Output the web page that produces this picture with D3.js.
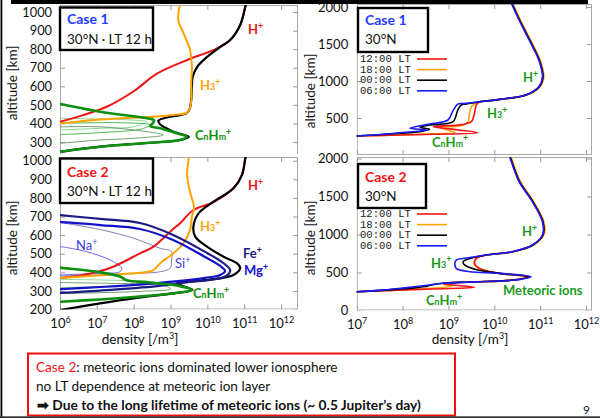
<!DOCTYPE html>
<html><head><meta charset="utf-8">
<script src="https://cdn.jsdelivr.net/npm/d3@7/dist/d3.min.js"></script>
<style>body{margin:0;background:#fff}svg{display:block}</style>
</head><body>
<svg id="c" width="600" height="418"></svg>
<script>
// ---------------- DATA: points are [log10 density (/m^3), altitude (km)] ----------------
const xTicksLeft = [6, 7, 8, 9, 10, 11, 12];
const xTicksRight = [7, 8, 9, 10, 11, 12];
const yTicksLeftTop = [300, 400, 500, 600, 700, 800, 900, 1000];
const yTicksLeftBot = [200, 300, 400, 500, 600, 700, 800, 900, 1000];
const yTicksRightTop = [500, 1000, 1500, 2000];
const yTicksRightBot = [0, 500, 1000, 1500, 2000];
const ltLabels = ["12:00 LT", "18:00 LT", "00:00 LT", "06:00 LT"];

// Case 1, 30N, LT 12 h (top-left)
const c1_H = [[11.05,1045],[11.03,1029],[10.89,930],[10.62,849],[10.16,795],[9.45,742],[8.63,668],[7.99,572],[7.27,490],[6.63,445],[6.0,409],[5.8,400]];
const c1_H3 = [[9.26,1045],[9.21,957],[9.35,887],[9.53,795],[9.58,704],[9.56,618],[9.57,540],[9.52,480],[9.45,458],[9.2,448],[8.63,438],[7.09,421],[6.0,401],[5.8,398]];
const c1_Tot = [[11.05,1045],[11.03,1029],[10.89,930],[10.62,849],[10.35,812],[9.99,758],[9.72,704],[9.6,650],[9.58,600],[9.57,540],[9.52,480],[9.44,456],[8.9,432],[8.67,415],[8.72,395],[8.85,378],[9.08,355],[9.5,328],[9.27,311],[8.45,296],[7.09,275],[6.0,248],[5.8,243]];
const c1_CH = [[5.8,512],[6.0,505],[7.09,463],[8.36,428],[8.55,418],[8.52,401],[8.45,386],[8.72,374],[9.17,347],[9.44,329],[9.25,311],[8.45,296],[7.09,275],[6.0,248],[5.8,243]];
const c1_thinA = [[5.8,430],[6.0,428],[7.99,418],[8.36,409],[7.99,382],[7.09,374],[6.0,365],[5.8,363]];
const c1_thinB = [[5.8,383],[6.0,382],[7.09,382],[7.99,365],[8.81,338],[7.99,320],[7.09,311],[6.0,293],[5.8,290]];
const c1_thinC = [[5.8,402],[6.0,401],[7.54,404],[8.45,392],[8.2,370],[7.2,352],[6.0,340],[5.8,338]];

// Case 2, 30N, LT 12 h (bottom-left)
const c2_H = [[11.05,1030],[11.03,1013],[10.93,923],[10.71,853],[10.17,778],[9.62,735],[9.26,664],[9.04,628],[8.54,538],[8.17,502],[7.36,423],[6.63,386],[6.0,369],[5.8,366]];
const c2_H3 = [[9.49,1030],[9.49,1013],[9.45,923],[9.53,832],[9.64,746],[9.58,699],[9.53,628],[9.35,556],[9.08,502],[8.72,449],[8.54,412],[8.3,400],[7.09,384],[6.0,369],[5.8,366]];
const c2_Tot = [[11.05,1030],[11.03,1013],[10.94,923],[10.71,852],[10.17,780],[9.76,717],[9.62,645],[9.67,592],[9.99,538],[10.44,484],[10.8,449],[10.89,422],[10.71,386],[9.99,359],[9.53,350],[9.17,341],[9.35,325],[9.6,305],[9.08,287],[7.99,260],[7.09,233],[6.0,197]];
const c2_Fe = [[5.8,712],[6.0,708],[7.09,687],[8.17,665],[9.07,601],[9.99,504],[10.43,450],[10.62,412],[10.51,380],[10.08,359],[9.53,348],[8.64,326],[7.09,302],[6.0,289],[5.8,287]];
const c2_Mg = [[5.8,675],[6.0,671],[7.09,654],[8.17,633],[9.07,574],[9.94,482],[10.35,434],[10.48,407],[10.35,386],[9.94,370],[9.53,359],[8.64,342],[7.09,321],[6.0,310],[5.8,308]];
const c2_Na = [[5.8,540],[6.0,538],[6.72,511],[7.36,466],[7.68,422],[7.63,403],[7.09,395],[6.0,386],[5.8,385]];
const c2_Si = [[5.8,670],[6.0,667],[7.09,630],[8.0,583],[8.72,529],[9.03,511],[9.03,466],[8.99,422],[8.72,403],[8.17,395],[7.0,386],[6.0,380],[5.8,379]];
const c2_CH = [[5.8,430],[6.0,425],[7.09,400],[7.63,377],[7.81,357],[8.45,345],[9.22,327],[9.58,305],[9.22,290],[7.99,267],[7.09,254],[6.0,242],[5.8,240]];
const c2_thinA = [[5.8,363],[6.0,362],[7.5,357],[8.4,350],[8.6,340],[8.0,330],[7.0,322],[6.0,318],[5.8,317]];
const c2_thinB = [[5.8,346],[6.0,345],[7.5,340],[8.8,330],[9.0,310],[8.2,298],[7.0,290],[6.0,286],[5.8,285]];

// Case 1, 30N, total density at 4 local times (top-right)
const r1_top = [[10.36,2090],[10.40,2027],[10.55,1824],[10.77,1554],[10.98,1284],[11.06,1058],[10.98,923],[10.69,811],[10.12,752],[9.8,728]];
const r1_12 = [[9.68,720],[9.62,690],[9.6,660],[9.55,520],[9.5,450],[9.3,410],[8.67,383],[9.2,340],[9.64,301],[8.67,280],[7.94,270],[7.0,257],[6.8,255]];
const r1_18 = [[9.68,720],[9.55,680],[9.5,653],[9.45,520],[9.43,450],[9.25,392],[8.81,374],[9.14,301],[8.66,288],[7.94,270],[7.0,257],[6.8,255]];
const r1_00 = [[9.68,720],[9.4,690],[9.28,676],[9.2,600],[9.1,450],[8.59,405],[8.38,374],[8.59,347],[8.38,315],[7.94,293],[7.0,257],[6.8,255]];
const r1_06 = [[9.68,720],[9.35,695],[9.21,689],[9.1,600],[8.99,473],[8.59,419],[8.16,361],[8.52,338],[7.94,301],[7.0,257],[6.8,255]];

// Case 2, 30N, total density at 4 local times (bottom-right)
const r2_top = [[10.34,2040],[10.37,1980],[10.55,1695],[10.84,1432],[11.06,1168],[11.06,993],[10.84,862],[10.40,774],[9.83,730]];
const r2_12 = [[9.61,687],[9.57,621],[9.68,555],[10.12,489],[10.70,445],[10.40,401],[9.5,375],[8.88,358],[8.95,345],[9.57,305],[8.67,283],[7.6,262],[7.0,247],[6.8,245]];
const r2_18 = [[9.62,690],[9.56,621],[9.66,555],[10.1,489],[10.72,445],[10.40,401],[9.5,375],[8.88,358],[8.9,343],[9.08,322],[8.6,292],[7.6,262],[7.0,247],[6.8,245]];
const r2_00 = [[9.45,680],[9.32,642],[9.35,600],[9.6,540],[10.12,489],[10.76,445],[10.42,401],[9.5,375],[8.88,358],[8.6,332],[8.5,315],[8.2,295],[7.5,265],[7.0,247],[6.8,245]];
const r2_06 = [[9.4,690],[9.17,664],[9.14,621],[9.17,555],[9.46,511],[10.12,489],[10.80,445],[10.45,401],[9.5,375],[8.88,358],[8.5,330],[8.3,315],[8.0,295],[7.5,265],[7.0,247],[6.8,245]];

// ---------------- DRAWING ----------------
const FONT = "Lato, 'Open Sans', 'Noto Sans', sans-serif";
const MONO = "'Liberation Mono', 'DejaVu Sans Mono', monospace";
const RED = "#f01414", ORANGE = "#ffa300", GREEN = "#0f8f0f", LGREEN = "#1a9a1a",
      NAVY = "#1c1c86", BLUE = "#1212cc", LBLUE = "#6a6aee", SIC = "#8080b0";
const svg = d3.select("#c");
const defs = svg.append("defs");

function panel(cfg) {
  const g = svg.append("g");
  const x = d3.scaleLog().domain(cfg.xd).range([cfg.x0, cfg.x1]);
  const y = d3.scaleLinear().domain(cfg.yd).range([cfg.yb, cfg.yt]);
  defs.append("clipPath").attr("id", "clip" + cfg.id).append("rect")
    .attr("x", cfg.x0).attr("y", cfg.ct).attr("width", cfg.x1 - cfg.x0).attr("height", cfg.cb - cfg.ct);
  const fr = g.append("g").attr("clip-path", `url(#clip${cfg.id})`);
  fr.append("rect").attr("x", cfg.x0 + 0.5).attr("y", cfg.yt + 0.5)
    .attr("width", cfg.x1 - cfg.x0 - 1).attr("height", cfg.yb - cfg.yt - 1)
    .attr("fill", "#fff").attr("stroke", "#a8a8a8").attr("stroke-width", 1);
  const tk = (axis, tr) => {
    const a = fr.append("g").attr("transform", tr).call(axis);
    a.select(".domain").remove();
    a.selectAll("line").attr("stroke", "#9a9a9a");
    a.selectAll("text").remove();
  };
  const xv = cfg.xt.map(e => Math.pow(10, e));
  tk(d3.axisBottom(x).tickValues(xv).tickSize(-5), `translate(0,${cfg.yb})`);
  tk(d3.axisTop(x).tickValues(xv).tickSize(-5), `translate(0,${cfg.yt})`);
  tk(d3.axisLeft(y).tickValues(cfg.ytm).tickSize(-5), `translate(${cfg.x0},0)`);
  tk(d3.axisRight(y).tickValues(cfg.ytm).tickSize(-5), `translate(${cfg.x1},0)`);
  const ya = g.append("g").attr("transform", `translate(${cfg.x0},0)`)
    .call(d3.axisLeft(y).tickValues(cfg.yl).tickSize(0).tickPadding(cfg.ypad).tickFormat(d3.format("d")));
  ya.select(".domain").remove();
  ya.selectAll("text").attr("font-family", FONT).attr("font-size", cfg.yfs).attr("fill", "#111");
  const line = d3.line().x(d => x(Math.pow(10, d[0]))).y(d => y(d[1])).curve(d3.curveCatmullRom.alpha(0.5));
  return { g, fr, x, y, line };
}

function curve(p, data, color, w) {
  p.fr.append("path").attr("d", p.line(data)).attr("fill", "none")
    .attr("stroke", color).attr("stroke-width", w).attr("stroke-linejoin", "round");
}

function xLabels(p, ticks, yb) {
  const a = p.g.append("g").attr("transform", `translate(0,${yb})`)
    .call(d3.axisBottom(p.x).tickValues(ticks.map(e => Math.pow(10, e))).tickSize(0).tickPadding(9));
  a.select(".domain").remove();
  a.selectAll("text").each(function(d) {
    const t = d3.select(this).text("").attr("font-family", FONT).attr("font-size", 13).attr("fill", "#111");
    t.append("tspan").text("10");
    t.append("tspan").attr("dy", -5).attr("font-size", 9).text(Math.round(Math.log10(d)));
  });
}

function rich(x, y, parts, o) {
  const t = svg.append("text").attr("x", x).attr("y", y).attr("font-family", FONT)
    .attr("font-size", o.size).attr("font-weight", o.weight || "bold").attr("fill", o.color);
  let cur = 0;
  parts.forEach(pt => {
    const shift = pt[1] === "sup" ? -0.42 * o.size : 0;
    const ts = t.append("tspan").attr("dy", shift - cur).text(pt[0]);
    if (pt[1]) ts.attr("font-size", o.size * 0.68);
    cur = shift;
  });
  return t;
}
const Hp = [["H"], ["+", "sup"]];
const H3p = [["H"], ["3", "sub"], ["+", "sup"]];
const CHp = [["C"], ["n", "sub"], ["H"], ["m", "sub"], ["+", "sup"]];

function box(x0, y0, x1, y1, title, tcol, sub, tb, sb) {
  svg.append("rect").attr("x", x0).attr("y", y0).attr("width", x1 - x0).attr("height", y1 - y0)
    .attr("fill", "#fff").attr("stroke", "#000").attr("stroke-width", 2.4);
  svg.append("text").attr("x", x0 + 7).attr("y", tb).attr("font-family", FONT).attr("font-weight", "bold")
    .attr("font-size", 14).attr("fill", tcol).text(title);
  const t = svg.append("text").attr("x", x0 + 7).attr("y", sb).attr("font-family", FONT)
    .attr("font-size", 13.5).attr("fill", "#111");
  sub.forEach((s, i) => {
    const ts = t.append("tspan").text(s);
    if (i === 1) ts.attr("font-size", 10).attr("font-family", "'Noto Sans CJK JP', sans-serif");
  });
}

function yTitle(x, y) {
  svg.append("text").attr("transform", `translate(${x},${y}) rotate(-90)`).attr("text-anchor", "middle")
    .attr("font-family", FONT).attr("font-size", 13.5).attr("fill", "#111").text("altitude [km]");
}

// ---- top-left ----
const P1 = panel({ id: 1, x0: 60, x1: 298, yt: 5, yb: 160.6, ct: 5, cb: 154,
  xd: [1e6, Math.pow(10, 12.46)], yd: [200, 1038], xt: xTicksLeft,
  ytm: yTicksLeftBot, yl: yTicksLeftTop, ypad: 8, yfs: 12.8 });
curve(P1, c1_thinA, "#8fd88f", 1);
curve(P1, c1_thinB, "#6f9f6f", 1);
curve(P1, c1_thinC, "#4cb84c", 1);
curve(P1, c1_H, RED, 2);
curve(P1, c1_Tot, "#000", 2.2);
curve(P1, c1_H3, ORANGE, 2);
curve(P1, c1_CH, GREEN, 2.6);

// ---- top-right ----
const P3 = panel({ id: 3, x0: 356.7, x1: 592, yt: 4, yb: 155, ct: 4, cb: 155,
  xd: [1e7, Math.pow(10, 12.13)], yd: [0, 2040], xt: xTicksRight,
  ytm: yTicksRightBot, yl: yTicksRightTop, ypad: 8.5, yfs: 13 });
curve(P3, r1_top.map(d => [d[0] + 0.02, d[1]]).concat(r1_18), ORANGE, 1.6);
curve(P3, r1_top.concat(r1_12), RED, 1.6);
curve(P3, r1_top.concat(r1_00), "#000", 1.6);
curve(P3, r1_top.map(d => [d[0] - 0.01, d[1]]).concat(r1_06), "#1a1aff", 1.6);

// ---- bottom-left ----
const P2 = panel({ id: 2, x0: 60, x1: 298, yt: 157, yb: 309.5, ct: 157, cb: 309.5,
  xd: [1e6, Math.pow(10, 12.46)], yd: [200, 1020], xt: xTicksLeft,
  ytm: yTicksLeftBot, yl: yTicksLeftBot, ypad: 8, yfs: 12.8 });
curve(P2, c2_thinA, "#8fd88f", 1);
curve(P2, c2_thinB, "#6f9f6f", 1);
curve(P2, c2_Na, LBLUE, 1);
curve(P2, c2_Si, SIC, 1);
curve(P2, c2_H, RED, 2);
curve(P2, c2_H3, ORANGE, 2);
curve(P2, c2_Tot, "#000", 2.2);
curve(P2, c2_Fe, NAVY, 2.2);
curve(P2, c2_Mg, BLUE, 2.2);
curve(P2, c2_CH, GREEN, 2.6);
xLabels(P2, xTicksLeft, 309.5);

// ---- bottom-right ----
const P4 = panel({ id: 4, x0: 356.7, x1: 592, yt: 157, yb: 310.5, ct: 157, cb: 310.5,
  xd: [1e7, Math.pow(10, 12.13)], yd: [0, 2020], xt: xTicksRight,
  ytm: yTicksRightBot, yl: yTicksRightBot, ypad: 8.5, yfs: 13 });
curve(P4, r2_top.map(d => [d[0] + 0.02, d[1]]).concat(r2_18), ORANGE, 1.6);
curve(P4, r2_top.concat(r2_12), RED, 1.6);
curve(P4, r2_top.concat(r2_00), "#000", 1.6);
curve(P4, r2_top.map(d => [d[0] - 0.01, d[1]]).concat(r2_06), "#1a1aff", 1.6);
xLabels(P4, xTicksRight, 310.5);

// ---- axis titles ----
yTitle(17, 83); yTitle(17, 238); yTitle(315, 91); yTitle(315, 238);
[[140, 344], [470, 344]].forEach(([x, y]) => {
  const t = svg.append("text").attr("x", x).attr("y", y).attr("text-anchor", "middle")
    .attr("font-family", FONT).attr("font-size", 13.5).attr("fill", "#111");
  t.append("tspan").text("density [/m");
  t.append("tspan").attr("dy", -5).attr("font-size", 9).text("3");
  t.append("tspan").attr("dy", 5).text("]");
});

// ---- info boxes ----
box(60, 7.5, 153, 50, "Case 1", "#1f3cff", ["30°N", "・", "LT 12 h"], 24, 43.5);
box(60, 158.5, 153, 203, "Case 2", RED, ["30°N", "・", "LT 12 h"], 176.5, 195.5);
box(358, 8, 428, 52, "Case 1", "#1f3cff", ["30°N"], 25, 43.5);
box(358, 164, 426, 208, "Case 2", RED, ["30°N"], 182, 200.5);

// ---- LT legends ----
const ltColors = [RED, ORANGE, "#000", "#1a1aff"];
[[62, 59], [217, 214]].forEach(([tb, lb]) => {
  ltLabels.forEach((s, i) => {
    svg.append("text").attr("x", 360).attr("y", tb + i * 10.6).attr("font-family", MONO)
      .attr("font-size", 10.6).attr("fill", "#222").text(s);
    svg.append("line").attr("x1", 417).attr("x2", 447).attr("y1", lb + i * 10.6).attr("y2", lb + i * 10.6)
      .attr("stroke", ltColors[i]).attr("stroke-width", 1.6);
  });
});

// ---- curve labels ----
rich(248, 34, Hp, { size: 13, color: RED });
rich(200, 90, H3p, { size: 13, color: ORANGE });
rich(195, 140, CHp, { size: 13, color: GREEN });
rich(248, 190, Hp, { size: 13, color: RED });
rich(200, 231, H3p, { size: 13, color: ORANGE });
rich(243, 258, [["Fe"], ["+", "sup"]], { size: 13, color: NAVY });
rich(244, 275, [["Mg"], ["+", "sup"]], { size: 13, color: BLUE });
rich(76, 250, [["Na"], ["+", "sup"]], { size: 13, color: "#3a3ae0", weight: "normal" });
rich(175, 268, [["Si"], ["+", "sup"]], { size: 13, color: "#3a3ae0", weight: "normal" });
rich(193, 298, CHp, { size: 13, color: GREEN });
rich(523, 82, Hp, { size: 13, color: LGREEN });
rich(487, 118, H3p, { size: 13, color: LGREEN });
rich(432, 146.5, CHp, { size: 13, color: LGREEN });
rich(522, 236, Hp, { size: 13, color: LGREEN });
rich(431, 267.5, H3p, { size: 13, color: LGREEN });
rich(426, 305, CHp, { size: 13, color: LGREEN });
svg.append("text").attr("x", 503).attr("y", 295).attr("font-family", FONT).attr("font-weight", "bold")
  .attr("font-size", 13).attr("fill", LGREEN).text("Meteoric ions");

// ---- bottom note ----
svg.append("rect").attr("x", 28).attr("y", 353.5).attr("width", 427).attr("height", 62)
  .attr("fill", "#fff").attr("stroke", "#f01010").attr("stroke-width", 2);
const n1 = svg.append("text").attr("x", 36).attr("y", 372).attr("font-family", FONT).attr("font-size", 13.6).attr("fill", "#111");
n1.append("tspan").attr("fill", RED).text("Case 2");
n1.append("tspan").text(": meteoric ions dominated lower ionosphere");
svg.append("text").attr("x", 36).attr("y", 391).attr("font-family", FONT).attr("font-size", 13.6).attr("fill", "#111")
  .text("no LT dependence at meteoric ion layer");
svg.append("text").attr("x", 37).attr("y", 409.5).attr("font-family", FONT).attr("font-size", 13.8)
  .attr("font-weight", "bold").attr("fill", "#111").text("➡ Due to the long lifetime of meteoric ions (~ 0.5 Jupiter’s day)");
svg.append("text").attr("x", 583).attr("y", 414).attr("font-family", FONT).attr("font-size", 12).attr("fill", "#222").text("9");

// ---- slide frame ----
svg.append("rect").attr("x", 11).attr("y", 0).attr("width", 577).attr("height", 4).attr("fill", "#000");
svg.append("rect").attr("x", 0.5).attr("y", 0).attr("width", 1.8).attr("height", 418).attr("fill", "#000");
svg.append("rect").attr("x", 0).attr("y", 416.3).attr("width", 600).attr("height", 1.7).attr("fill", "#333");
</script>
</body></html>
